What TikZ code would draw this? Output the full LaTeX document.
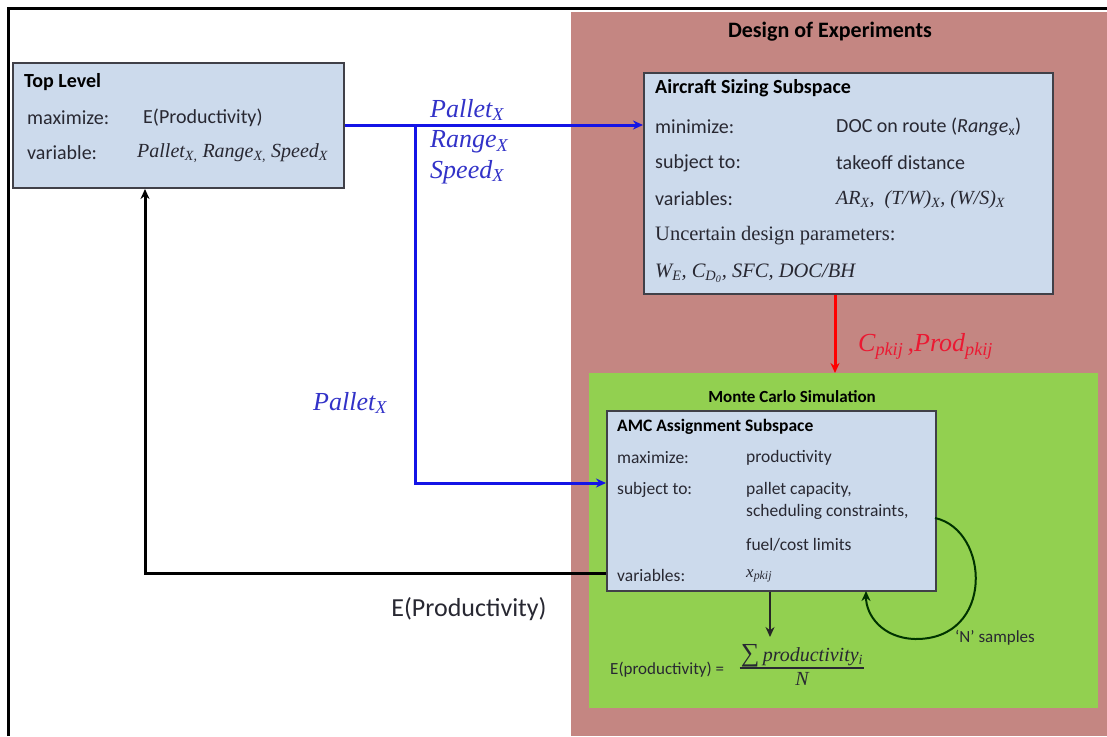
\documentclass[tikz,border=0pt]{standalone}
\usepackage{fontspec}
\setmainfont{Carlito}
\newfontfamily\tnr{Liberation Serif}
\usetikzlibrary{arrows.meta}
\definecolor{pinkbg}{RGB}{196,134,130}
\definecolor{greenbg}{RGB}{146,208,80}
\definecolor{boxfill}{RGB}{204,218,236}
\definecolor{boxline}{RGB}{64,64,72}
\definecolor{bluel}{RGB}{20,20,230}
\definecolor{bluet}{RGB}{50,50,200}
\definecolor{redt}{RGB}{235,25,50}
\definecolor{txt}{RGB}{40,40,50}
\newcommand{\fsz}[1]{\fontsize{#1}{#1}\selectfont}
\tikzset{
  box/.style={draw=boxline, line width=2pt, fill=boxfill, anchor=north west, inner sep=0pt},
  lab/.style={anchor=west, inner sep=0pt, text=txt, font=\fsz{20}},
  labs/.style={anchor=west, inner sep=0pt, text=txt, font=\fsz{17.5}},
  ttl/.style={anchor=west, inner sep=0pt, text=black, font=\fsz{20}\bfseries},
  blueconn/.style={draw=bluel, line width=3pt},
  blackconn/.style={draw=black, line width=3pt},
  arr/.style={-{Stealth[length=10pt,width=9pt]}},
  bluelab/.style={anchor=west, inner sep=0pt, text=bluet, font=\fsz{26}\tnr\itshape},
}
\begin{document}
\begin{tikzpicture}[x=1pt,y=-1pt]
\useasboundingbox (0,0) rectangle (1107,736);
\fill[white] (0,0) rectangle (1107,736);
% backgrounds
\fill[pinkbg] (571,12) rectangle (1107,736);
\fill[greenbg] (589,373) rectangle (1098,708);
% outer frame
\draw[line width=3pt] (8,736) -- (8,8) -- (1107,8);
% group titles
\node[anchor=center, inner sep=0pt, font=\fsz{22}\bfseries] (doe) at (830,32) {Design of Experiments};
\node[anchor=center, inner sep=0pt, font=\fsz{17}\bfseries] (mcs) at (792,397) {Monte Carlo Simulation};
\node[anchor=north west, inner sep=0pt, minimum width=509pt, minimum height=335pt] (mc) at (589,373) {};
% boxes
\node[box, minimum width=331pt, minimum height=125pt] (top) at (12,62) {};
\node[box, minimum width=409pt, minimum height=221pt] (air) at (643,72) {};
\node[box, minimum width=329pt, minimum height=180pt] (amc) at (606,410) {};
% Top level text
\node[ttl] (t0) at (24,82) {Top Level};
\node[lab] (t1) at (27,118) {maximize:};
\node[lab] (t2) at (143,118) {E(Productivity)};
\node[lab] (t3) at (27,153) {variable:};
\node[lab, font=\fsz{20}\tnr\itshape] (t4) at (137,153) {Pallet\textsubscript{X,} Range\textsubscript{X,} Speed\textsubscript{X}};
% Aircraft sizing text
\node[ttl] (a0) at (655,88) {Aircraft Sizing Subspace};
\node[lab] (a1) at (655,127) {minimize:};
\node[lab] (a2) at (836,127) {DOC on route (\textit{Range}\textsubscript{x})};
\node[lab] (a3) at (655,163) {subject to:};
\node[lab] (a4) at (836,163) {takeoff distance};
\node[lab] (a5) at (655,199) {variables:};
\node[lab, font=\fsz{20}\tnr\itshape] (a6) at (836,200) {AR\textsubscript{X},\ \ (T/W)\textsubscript{X},\ (W/S)\textsubscript{X}};
\node[lab, font=\fsz{20.5}\tnr] (a7) at (655,236) {Uncertain design parameters:};
\node[lab, font=\fsz{20.5}\tnr\itshape] (a8) at (655,273) {W\textsubscript{E}, C\textsubscript{D\textsubscript{0}}, SFC, DOC/BH};
% AMC text
\node[ttl, font=\fsz{17.5}\bfseries] (m0) at (617,427) {AMC Assignment Subspace};
\node[labs] (m1) at (617,458) {maximize:};
\node[labs] (m2) at (746,458) {productivity};
\node[labs] (m3) at (617,490) {subject to:};
\node[labs] (m4) at (746,490) {pallet capacity,};
\node[labs] (m5) at (746,512) {scheduling constraints,};
\node[labs] (m6) at (746,545) {fuel/cost limits};
\node[labs] (m7) at (617,575) {variables:};
\node[labs, font=\fsz{17}\tnr\itshape] (m8) at (746,576) {x\textsubscript{pkij}};
% blue connectors
\coordinate (br) at (415,125);
\coordinate (bj) at (415,483);
\draw[blueconn, arr, bluel] (top.east |- br) -- (air.west |- br);
\draw[blueconn, arr, bluel] (br) -- (bj) -- (amc.west |- bj);
\node[bluelab] (p1) at (430,110) {Pallet\textsubscript{X}};
\node[bluelab] (p2) at (430,142) {Range\textsubscript{X}};
\node[bluelab] (p3) at (430,172) {Speed\textsubscript{X}};
\node[bluelab] (p4) at (313,403) {Pallet\textsubscript{X}};
% red connector
\coordinate (rd) at (835,293);
\draw[draw=red, line width=3pt, arr, red] (air.south -| rd) -- (mc.north -| rd);
\node[anchor=west, inner sep=0pt, text=redt, font=\fsz{26}\tnr\itshape] (cl) at (858,346) {C\textsubscript{pkij}\,,Prod\textsubscript{pkij}};
% black feedback
\coordinate (fb) at (145,573);
\draw[blackconn, arr] (amc.west |- fb) -- (fb) -- (fb |- top.south);
\node[anchor=center, inner sep=0pt, text=txt, font=\fsz{26}] (ep) at (469,609) {E(Productivity)};
% down arrow and formula
\coordinate (dn) at (770,637);
\draw[line width=2pt, arr, black!85] (amc.south -| dn) -- (dn);
\node[anchor=west, inner sep=0pt, text=txt, font=\fsz{17}] (ef) at (610,670) {E(productivity) =};
\node[anchor=south, inner sep=1pt, text=txt, font=\fsz{20}\tnr\itshape] (num) at (802,668) {{\upshape\fsz{26}∑}\,productivity\textsubscript{i}};
\node[anchor=north, inner sep=1pt, text=txt, font=\fsz{20}\tnr\itshape] (den) at (802,671) {N};
\draw[line width=1.2pt, txt] (num.south west) -- (num.south east);
% loop
\coordinate (ls) at (935,518);
\coordinate (le) at (866,591);
\draw[line width=2pt, arr, black!80!green] (ls) .. controls (990,530) and (995,640) .. (915,639)
   .. controls (882,638) and (866,615) .. (le);
\node[anchor=west, inner sep=0pt, text=txt, font=\fsz{17}] (ns) at (955,638) {`N' samples};
\end{tikzpicture}
\end{document}
